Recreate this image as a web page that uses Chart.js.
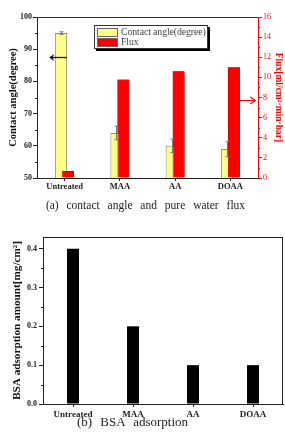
<!DOCTYPE html>
<html><head><meta charset="utf-8">
<script src="https://cdn.jsdelivr.net/npm/chart.js@4.4.1/dist/chart.umd.min.js"></script>
<style>
html,body{margin:0;padding:0;background:#fff}
body{width:285px;height:445px;position:relative;overflow:hidden;font-family:"Liberation Serif","Times New Roman",serif}
.wrap{position:absolute;left:0;width:285px;height:200px}
#w1{top:0}
#w2{top:225px}
.cap{position:absolute;left:0;width:285px;text-align:center;color:#222;white-space:nowrap}
#capA{top:199px;font-size:11.5px;word-spacing:5px;left:3px}
#capB{top:414px;font-size:13px;word-spacing:5px;left:-10px}
#legend{position:absolute;left:94px;top:25px;width:112px;height:22px;border:1px solid #333;box-shadow:2px 2px 0 #000;background:#fff}
.li{position:absolute;left:2px;height:10px;font-size:9.8px;line-height:10px;color:#444;white-space:nowrap;letter-spacing:-0.1px}
.sw{display:inline-block;width:19px;height:7px;border:1px solid #666;vertical-align:top;margin-top:1px;margin-right:3px}
</style></head>
<body>
<div class="wrap" id="w1"><canvas id="c1" width="285" height="200"></canvas></div>
<div id="legend"></div>
<div class="cap" id="capA">(a) contact angle and pure water flux</div>
<div class="wrap" id="w2"><canvas id="c2" width="285" height="200"></canvas></div>
<div class="cap" id="capB">(b) BSA adsorption</div>
<script>
// ---- data ----
const categories = ['Untreated', 'MAA', 'AA', 'DOAA'];
const contactAngle = [95, 64, 60, 59];
const contactAngleErr = [0.4, 2.1, 2.1, 2.4];
const flux = [0.7, 9.8, 10.6, 11.0];
const bsaAdsorption = [0.4, 0.2, 0.1, 0.1];
const angleTicks = [50, 60, 70, 80, 90, 100];
const fluxTicks = [0, 2, 4, 6, 8, 10, 12, 14, 16];
const bsaTicks = [0.0, 0.1, 0.2, 0.3, 0.4];
const seriesLabels = ['Contact angle(degree)', 'Flux'];

const SERIF = '"Liberation Serif","Times New Roman",serif';
const YELLOW = '#ffff88', RED = '#ff0000';

// legend (HTML, from dataset labels)
const legendColors = [YELLOW, RED];
const lg = document.getElementById('legend');
seriesLabels.forEach((t, i) => {
  const d = document.createElement('div');
  d.className = 'li';
  d.style.top = (1 + i * 10) + 'px';
  d.innerHTML = '<span class="sw" style="background:' + legendColors[i] + '"></span>' + t;
  lg.appendChild(d);
});

// minor ticks plugin
const minorTicks = {
  id: 'minorTicks',
  afterDraw(chart, args, opts) {
    const ctx = chart.ctx;
    (opts.list || []).forEach(m => {
      const s = chart.scales[m.scale];
      ctx.save();
      ctx.strokeStyle = m.color; ctx.lineWidth = 1;
      for (let v = s.min + m.step; v < s.max; v += m.step * 2) {
        const y = Math.round(s.getPixelForValue(v)) + 0.5;
        ctx.beginPath();
        if (m.side === 'left') { ctx.moveTo(s.right - 2, y); ctx.lineTo(s.right, y); }
        else { ctx.moveTo(s.left, y); ctx.lineTo(s.left + 2, y); }
        ctx.stroke();
      }
      ctx.restore();
    });
  }
};

// frame plugin
const frame = {
  id: 'frame',
  afterDraw(chart, args, opts) {
    const a = chart.chartArea, ctx = chart.ctx;
    ctx.save(); ctx.strokeStyle = opts.color || '#222'; ctx.lineWidth = 1;
    ctx.beginPath();
    ctx.moveTo(a.left, a.top + 0.5); ctx.lineTo(a.right, a.top + 0.5);
    if (opts.full) { ctx.moveTo(a.right - 0.5, a.top); ctx.lineTo(a.right - 0.5, a.bottom); }
    ctx.stroke(); ctx.restore();
  }
};

// red on top + error bars + arrows
const overlay = {
  id: 'overlay',
  afterDatasetsDraw(chart) {
    const ctx = chart.ctx;
    chart.getDatasetMeta(1).controller.draw();
    const meta = chart.getDatasetMeta(0), y = chart.scales.y;
    ctx.save(); ctx.strokeStyle = '#777'; ctx.lineWidth = 1;
    meta.data.forEach((el, i) => {
      const x = Math.round(el.x) + 0.5;
      const t = y.getPixelForValue(contactAngle[i] + contactAngleErr[i]);
      const b = y.getPixelForValue(contactAngle[i] - contactAngleErr[i]);
      ctx.beginPath();
      ctx.moveTo(x, t); ctx.lineTo(x, b);
      ctx.moveTo(x - 2, t); ctx.lineTo(x + 2, t);
      ctx.moveTo(x - 2, b); ctx.lineTo(x + 2, b);
      ctx.stroke();
    });
    ctx.restore();
  },
  afterDraw(chart) {
    const ctx = chart.ctx, xs = chart.scales.x;
    // black arrow -> left axis
    let yy = Math.round(chart.scales.y.getPixelForValue(87.6)) + 0.5;
    let x1 = xs.getPixelForValue(0.04), x0 = xs.getPixelForValue(-0.28);
    ctx.save();
    ctx.strokeStyle = '#111'; ctx.fillStyle = '#111'; ctx.lineWidth = 1.3;
    ctx.beginPath(); ctx.moveTo(x1, yy); ctx.lineTo(x0 + 2, yy); ctx.stroke();
    ctx.beginPath(); ctx.moveTo(x0, yy); ctx.lineTo(x0 + 5, yy - 3.5); ctx.lineTo(x0 + 3.5, yy); ctx.lineTo(x0 + 5, yy + 3.5); ctx.closePath(); ctx.fill();
    // red arrow -> right axis
    yy = Math.round(chart.scales.y1.getPixelForValue(7.75)) + 0.5;
    x0 = xs.getPixelForValue(3.12); x1 = xs.getPixelForValue(3.45);
    ctx.strokeStyle = RED; ctx.lineWidth = 1.2;
    ctx.beginPath(); ctx.moveTo(x0, yy); ctx.lineTo(x1, yy);
    ctx.moveTo(x1 - 5, yy - 3.5); ctx.lineTo(x1, yy); ctx.lineTo(x1 - 5, yy + 3.5);
    ctx.stroke();
    ctx.restore();
  }
};

const tickFont = { family: SERIF, size: 8, weight: 'bold' };

new Chart(document.getElementById('c1'), {
  type: 'bar',
  data: {
    labels: categories,
    datasets: [
      { label: seriesLabels[0], data: contactAngle, yAxisID: 'y', backgroundColor: YELLOW, borderColor: '#8c8c70', borderWidth: 1,
        categoryPercentage: 0.2534, barPercentage: 1.714 },
      { label: seriesLabels[1], data: flux, yAxisID: 'y1', backgroundColor: RED, borderColor: '#d00000', borderWidth: 1,
        categoryPercentage: 0.2534, barPercentage: 1.714 }
    ]
  },
  options: {
    responsive: false, animation: false, devicePixelRatio: 1,
    layout: { padding: { top: 17, left: 0, right: 0, bottom: 0 } },
    plugins: {
      legend: { display: false }, tooltip: { enabled: false },
      minorTicks: { list: [
        { scale: 'y', step: 5, side: 'left', color: '#222' },
        { scale: 'y1', step: 1, side: 'right', color: RED } ] },
      frame: { color: '#333' }
    },
    scales: {
      x: {
        grid: { drawOnChartArea: false, offset: false, tickLength: 3, color: '#222' },
        border: { color: '#222' },
        ticks: { font: { family: SERIF, size: 8.5, weight: 'bold' }, color: '#222', padding: 1, maxRotation: 0 },
        afterFit(s) { s.height = 22; }
      },
      y: {
        position: 'left', min: 50, max: 100,
        afterBuildTicks(s) { s.ticks = angleTicks.map(v => ({ value: v })); },
        ticks: { font: tickFont, color: '#222', padding: 1 },
        grid: { drawOnChartArea: false, tickLength: 4, color: '#222' },
        border: { color: '#222' },
        title: { display: true, text: 'Contact angle(degree)', color: '#111', font: { family: SERIF, size: 10.5, weight: 'bold' }, padding: { top: 7, bottom: 0 } },
        afterFit(s) { s.width = 37; }
      },
      y1: {
        position: 'right', min: 0, max: 16,
        afterBuildTicks(s) { s.ticks = fluxTicks.map(v => ({ value: v })); },
        ticks: { font: { family: SERIF, size: 8 }, color: RED, padding: 1 },
        grid: { drawOnChartArea: false, tickLength: 4, color: RED },
        border: { color: RED },
        title: { display: true, text: 'Flux[ml/cm²·min·bar]', color: RED, font: { family: SERIF, size: 9.5, weight: 'bold' }, padding: { top: 1, bottom: 0 } },
        afterFit(s) { s.width = 27; }
      }
    }
  },
  plugins: [minorTicks, frame, overlay]
});

new Chart(document.getElementById('c2'), {
  type: 'bar',
  data: {
    labels: categories,
    datasets: [
      { label: 'BSA adsorption', data: bsaAdsorption, backgroundColor: '#000', borderWidth: 0,
        categoryPercentage: 0.2, barPercentage: 1 }
    ]
  },
  options: {
    responsive: false, animation: false, devicePixelRatio: 1,
    layout: { padding: { top: 12, left: 0, right: 2, bottom: 0 } },
    plugins: {
      legend: { display: false }, tooltip: { enabled: false },
      minorTicks: { list: [ { scale: 'y', step: 0.05, side: 'left', color: '#222' } ] },
      frame: { color: '#222', full: true }
    },
    scales: {
      x: {
        grid: { drawOnChartArea: false, offset: false, tickLength: 3, color: '#222' },
        border: { color: '#222' },
        ticks: { font: { family: SERIF, size: 9, weight: 'bold' }, color: '#222', padding: 2, maxRotation: 0 },
        afterFit(s) { s.height = 21; }
      },
      y: {
        min: 0, max: 0.43,
        afterBuildTicks(s) { s.ticks = bsaTicks.map(v => ({ value: v })); },
        ticks: { font: tickFont, color: '#222', padding: 2, callback: v => v.toFixed(1) },
        grid: { drawOnChartArea: false, tickLength: 4, color: '#222' },
        border: { color: '#222' },
        title: { display: true, text: 'BSA adsorption amount[mg/cm²]', color: '#111', font: { family: SERIF, size: 11.2, weight: 'bold' }, padding: { top: 10, bottom: 0 } },
        afterFit(s) { s.width = 43; }
      }
    }
  },
  plugins: [minorTicks, frame]
});
</script>
</body></html>
